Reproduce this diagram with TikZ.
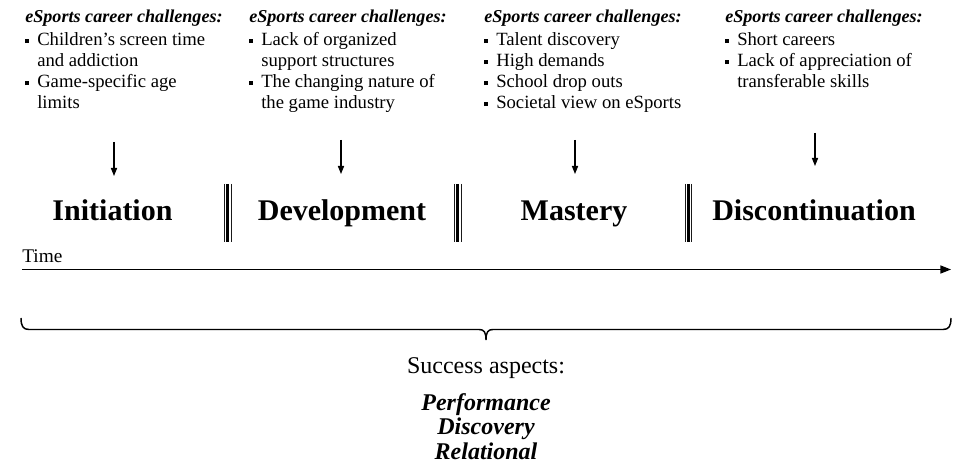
\documentclass[tikz,border=0pt]{standalone}
\usepackage{fontspec}
\setmainfont{Liberation Serif}
\usetikzlibrary{arrows.meta}
\definecolor{CareerInk}{HTML}{000000}
\definecolor{CareerBar}{HTML}{1A1A1A}

\newcommand{\sqbul}{\makebox[9pt][l]{\rule[2.2pt]{3.1pt}{3.1pt}}}
\newcommand{\hang}{\hspace*{9pt}}
\newcommand{\chalhead}{{\fontsize{13.6}{15.75}\selectfont\textbf{\textit{eSports career challenges:}}}\\[1.6pt]}

\begin{document}
\begin{tikzpicture}[x=0.75pt,y=-0.75pt,
    chal/.style={anchor=north west,inner sep=0pt,align=left,text=CareerInk,
      font=\fontsize{14}{15.75}\selectfont},
    stage/.style={anchor=base,inner sep=0pt,text=CareerInk,
      font=\fontsize{22.5}{27}\selectfont\bfseries},
    into/.style={CareerInk,line width=0.8pt,-{Triangle[length=6pt,width=4.6pt]}},
    barthin/.style={CareerBar,line width=0.6pt},
    barthick/.style={CareerInk,line width=2.4pt}]
  \useasboundingbox (0,0) rectangle (963,473);

  % challenges per phase
  \node[chal] (chalA) at (25,10) {\chalhead
    \sqbul Children's screen time\\ \hang and addiction\\
    \sqbul Game-specific age\\ \hang limits};
  \node[chal] (chalB) at (249,10) {\chalhead
    \sqbul Lack of organized\\ \hang support structures\\
    \sqbul The changing nature of\\ \hang the game industry};
  \node[chal] (chalC) at (484,10) {\chalhead
    \sqbul Talent discovery\\ \sqbul High demands\\
    \sqbul School drop outs\\ \sqbul Societal view on eSports};
  \node[chal] (chalD) at (725,10) {\chalhead
    \sqbul Short careers\\ \sqbul Lack of appreciation of\\
    \hang transferable skills};

  % phases
  \node[stage] (init) at (112.5,221) {Initiation};
  \node[stage] (devel) at (342,221) {Development};
  \node[stage] (mast) at (574,221) {Mastery};
  \node[stage] (disc) at (814,221) {Discontinuation};

  \coordinate (inA) at (114,142);  \coordinate (outA) at (114,176);
  \coordinate (inB) at (341,140);  \coordinate (outB) at (341,174);
  \coordinate (inC) at (575,140);  \coordinate (outC) at (575,174);
  \coordinate (inD) at (815,133);  \coordinate (outD) at (815,166);
  \draw[into] (inA) -- (outA);
  \draw[into] (inB) -- (outB);
  \draw[into] (inC) -- (outC);
  \draw[into] (inD) -- (outD);

  % phase borders
  \foreach \bx in {227.5,457.5,688.3} {
    \draw[barthin] (\bx-3.4,184) -- (\bx-3.4,242);
    \draw[barthick] (\bx,184) -- (\bx,242);
    \draw[barthin] (\bx+3.4,184) -- (\bx+3.4,242);
  }

  % time axis
  \node[anchor=base west,inner sep=0pt,font=\fontsize{14.5}{17}\selectfont] (time) at (22,263) {Time};
  \coordinate (tstart) at (22,269.5);
  \coordinate (tend) at (951,269.5);
  \draw[CareerInk,line width=1.1pt,-{Triangle[length=8pt,width=6pt]}] (tstart) -- (tend);

  % brace
  \draw[CareerInk,line width=1.1pt] (21,318) .. controls (21,326) and (23,329.5) .. (29,329.5)
    -- (479,329.5) .. controls (484,329.5) and (486,332) .. (486,340)
    .. controls (486,332) and (488,329.5) .. (493,329.5)
    -- (943,329.5) .. controls (949,329.5) and (951,326) .. (951,318);

  % success aspects
  \node[anchor=base,inner sep=0pt,font=\fontsize{18}{20}\selectfont] (succ) at (486,374) {Success aspects:};
  \node[anchor=north,inner sep=0pt,align=center,font=\fontsize{18}{18.6}\selectfont\bfseries\itshape] (aspects)
    at (486,393) {Performance\\ Discovery\\ Relational};
\end{tikzpicture}
\end{document}
